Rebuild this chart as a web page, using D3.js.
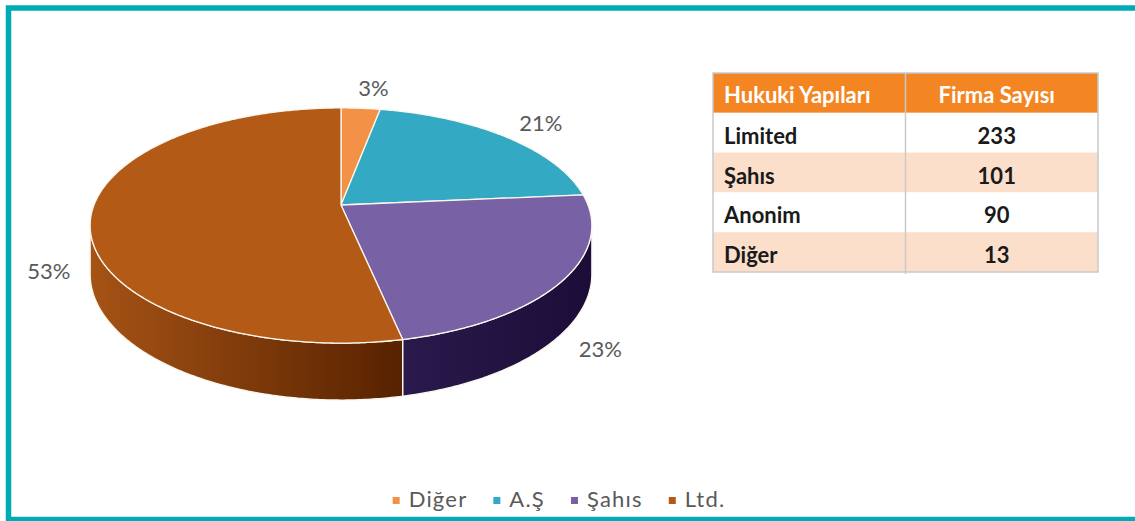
<!DOCTYPE html>
<html>
<head>
<meta charset="utf-8">
<script src="https://cdn.jsdelivr.net/npm/d3@7"></script>
<style>
  body { margin: 0; background: #fff; }
  svg { display: block; }
</style>
</head>
<body>
<script>
// data
var legendLabels = ['Diğer', 'A.Ş', 'Şahıs', 'Ltd.'];
var firmCounts = [13, 90, 101, 233];
var tableHeaders = ['Hukuki Yapıları', 'Firma Sayısı'];
var tableNames = ['Limited', 'Şahıs', 'Anonim', 'Diğer'];
var tableValues = [233, 101, 90, 13];

var topColors = ['#f39247', '#33a9c3', '#7862a5', '#b45a17'];
var sideLeft = ['#d9783a', '#23879d', '#2a1a4c', '#a65315'];
var sideRight = ['#b85a20', '#1a6b7d', '#1c0c38', '#572200'];

var svg = d3.select('body').append('svg')
    .attr('width', 1135)
    .attr('height', 521);

// teal frame
svg.append('rect')
    .attr('x', 8.5)
    .attr('y', 8)
    .attr('width', 1140)
    .attr('height', 511.5)
    .attr('fill', 'none')
    .attr('stroke', '#00abb6')
    .attr('stroke-width', 5.5);

// ---- 3D pie ----
var cx = 341, cy = 205, rx = 247, ry = 114, p = 0.1745, depth = 47;

function proj(a, r, dz) {
  var u = Math.sin(a) * r, v = -Math.cos(a) * r, w = 1 - p * v;
  return [cx + rx * u / w, cy + (ry * v + dz) / w];
}

function arcPts(a0, a1, dz) {
  var n = Math.max(2, Math.ceil((a1 - a0) / 0.01));
  return d3.range(n + 1).map(function(i) { return proj(a0 + (a1 - a0) * i / n, 1, dz); });
}

var color = d3.scaleOrdinal().domain(legendLabels).range(topColors);
var total = d3.sum(firmCounts);
var pct = d3.format('.0%');
var slices = d3.pie().sort(null).value(function(d) { return d; })(firmCounts);
var line = d3.line();

var defs = svg.append('defs');
legendLabels.forEach(function(name, i) {
  var g = defs.append('linearGradient').attr('id', 'side' + i)
      .attr('x1', 0).attr('x2', 1).attr('y1', 0).attr('y2', 0);
  g.append('stop').attr('offset', 0).attr('stop-color', sideLeft[i]);
  g.append('stop').attr('offset', 1).attr('stop-color', sideRight[i]);
});

var visA = Math.acos(-p), visB = 2 * Math.PI - Math.acos(-p);
var pieG = svg.append('g');

// side walls
slices.forEach(function(s, i) {
  var a0 = Math.max(s.startAngle, visA), a1 = Math.min(s.endAngle, visB);
  if (a0 >= a1) return;
  var pts = arcPts(a0, a1, 0).concat(arcPts(a0, a1, depth).reverse());
  pieG.append('path')
      .attr('d', line(pts) + 'Z')
      .attr('fill', 'url(#side' + i + ')')
      .attr('stroke', '#fbf6ee')
      .attr('stroke-width', 1.3)
      .attr('stroke-linejoin', 'round');
});

// top faces
slices.forEach(function(s, i) {
  var pts = [proj(0, 0, 0)].concat(arcPts(s.startAngle, s.endAngle, 0));
  pieG.append('path')
      .attr('d', line(pts) + 'Z')
      .attr('fill', color(legendLabels[i]))
      .attr('stroke', '#fbf6ee')
      .attr('stroke-width', 1.3)
      .attr('stroke-linejoin', 'round');
});

// percentage labels
slices.forEach(function(s, i) {
  var mid = (s.startAngle + s.endAngle) / 2;
  var rim = proj(mid, 1, 0);
  var u = Math.sin(mid), v = -Math.cos(mid);
  var w = 1 - p * v;
  pieG.append('text')
      .attr('x', rim[0] + 42 * Math.sign(u) * Math.sqrt(Math.abs(u)))
      .attr('y', rim[1] + v * 21 + (v > 0 ? depth / w + 3 : 0))
      .attr('text-anchor', 'middle')
      .attr('dominant-baseline', 'central')
      .attr('font-family', 'Lato, "Open Sans", sans-serif')
      .attr('font-size', 22)
      .attr('fill', '#595959')
      .text(pct(s.value / total));
});

// ---- table ----
var tx = 713, tw = 385, tTop = 73;
var rowY = d3.scaleBand().domain(d3.range(tableNames.length + 1)).range([tTop, tTop + 199]);
var colX = d3.scaleBand().domain([0, 1]).range([tx, tx + tw]);
var table = svg.append('g').attr('font-family', 'Lato, "Open Sans", sans-serif')
    .attr('font-weight', 'bold').attr('font-size', 22);

table.selectAll('rect.row')
  .data(d3.range(tableNames.length + 1))
  .join('rect')
    .attr('class', 'row')
    .attr('x', tx)
    .attr('y', function(d) { return rowY(d); })
    .attr('width', tw)
    .attr('height', rowY.bandwidth())
    .attr('fill', function(d) { return d === 0 ? '#f38623' : (d % 2 ? '#ffffff' : '#fbdfcb'); });

table.append('rect')
    .attr('x', tx).attr('y', tTop)
    .attr('width', tw).attr('height', 199)
    .attr('fill', 'none').attr('stroke', '#c9c9c9').attr('stroke-width', 1.5);
table.append('line')
    .attr('x1', colX(1)).attr('x2', colX(1))
    .attr('y1', tTop).attr('y2', tTop + 201)
    .attr('stroke', '#c9c9c9').attr('stroke-width', 1.5);

table.append('text').attr('x', tx + 11).attr('y', rowY(0) + 30)
    .attr('fill', '#fff').text(tableHeaders[0]);
table.append('text').attr('x', colX(1) + colX.bandwidth() / 2 - 5).attr('y', rowY(0) + 30)
    .attr('text-anchor', 'middle').attr('fill', '#fff').text(tableHeaders[1]);

table.selectAll('text.name')
  .data(tableNames)
  .join('text')
    .attr('class', 'name')
    .attr('x', tx + 11)
    .attr('y', function(d, i) { return rowY(i + 1) + 31; })
    .attr('fill', '#1a1a1a')
    .text(function(d) { return d; });

table.selectAll('text.val')
  .data(tableValues)
  .join('text')
    .attr('class', 'val')
    .attr('x', colX(1) + colX.bandwidth() / 2 - 5)
    .attr('y', function(d, i) { return rowY(i + 1) + 31; })
    .attr('text-anchor', 'middle')
    .attr('fill', '#1a1a1a')
    .text(function(d) { return d; });

// ---- legend ----
var legend = svg.append('g');
var lx = 0;
legendLabels.forEach(function(name, i) {
  var item = legend.append('g').attr('transform', 'translate(' + lx + ',0)');
  item.append('rect').attr('x', 0).attr('y', -10).attr('width', 7).attr('height', 7)
      .attr('fill', color(name));
  var t = item.append('text').attr('x', 16).attr('y', 0)
      .attr('font-family', 'Lato, "Open Sans", sans-serif')
      .attr('font-size', 22)
      .attr('letter-spacing', 1.2)
      .attr('fill', '#595959')
      .text(name);
  lx += 16 + t.node().getComputedTextLength() + 26;
});
lx -= 26;
legend.attr('transform', 'translate(' + (559 - lx / 2) + ',507)');
</script>
</body>
</html>
